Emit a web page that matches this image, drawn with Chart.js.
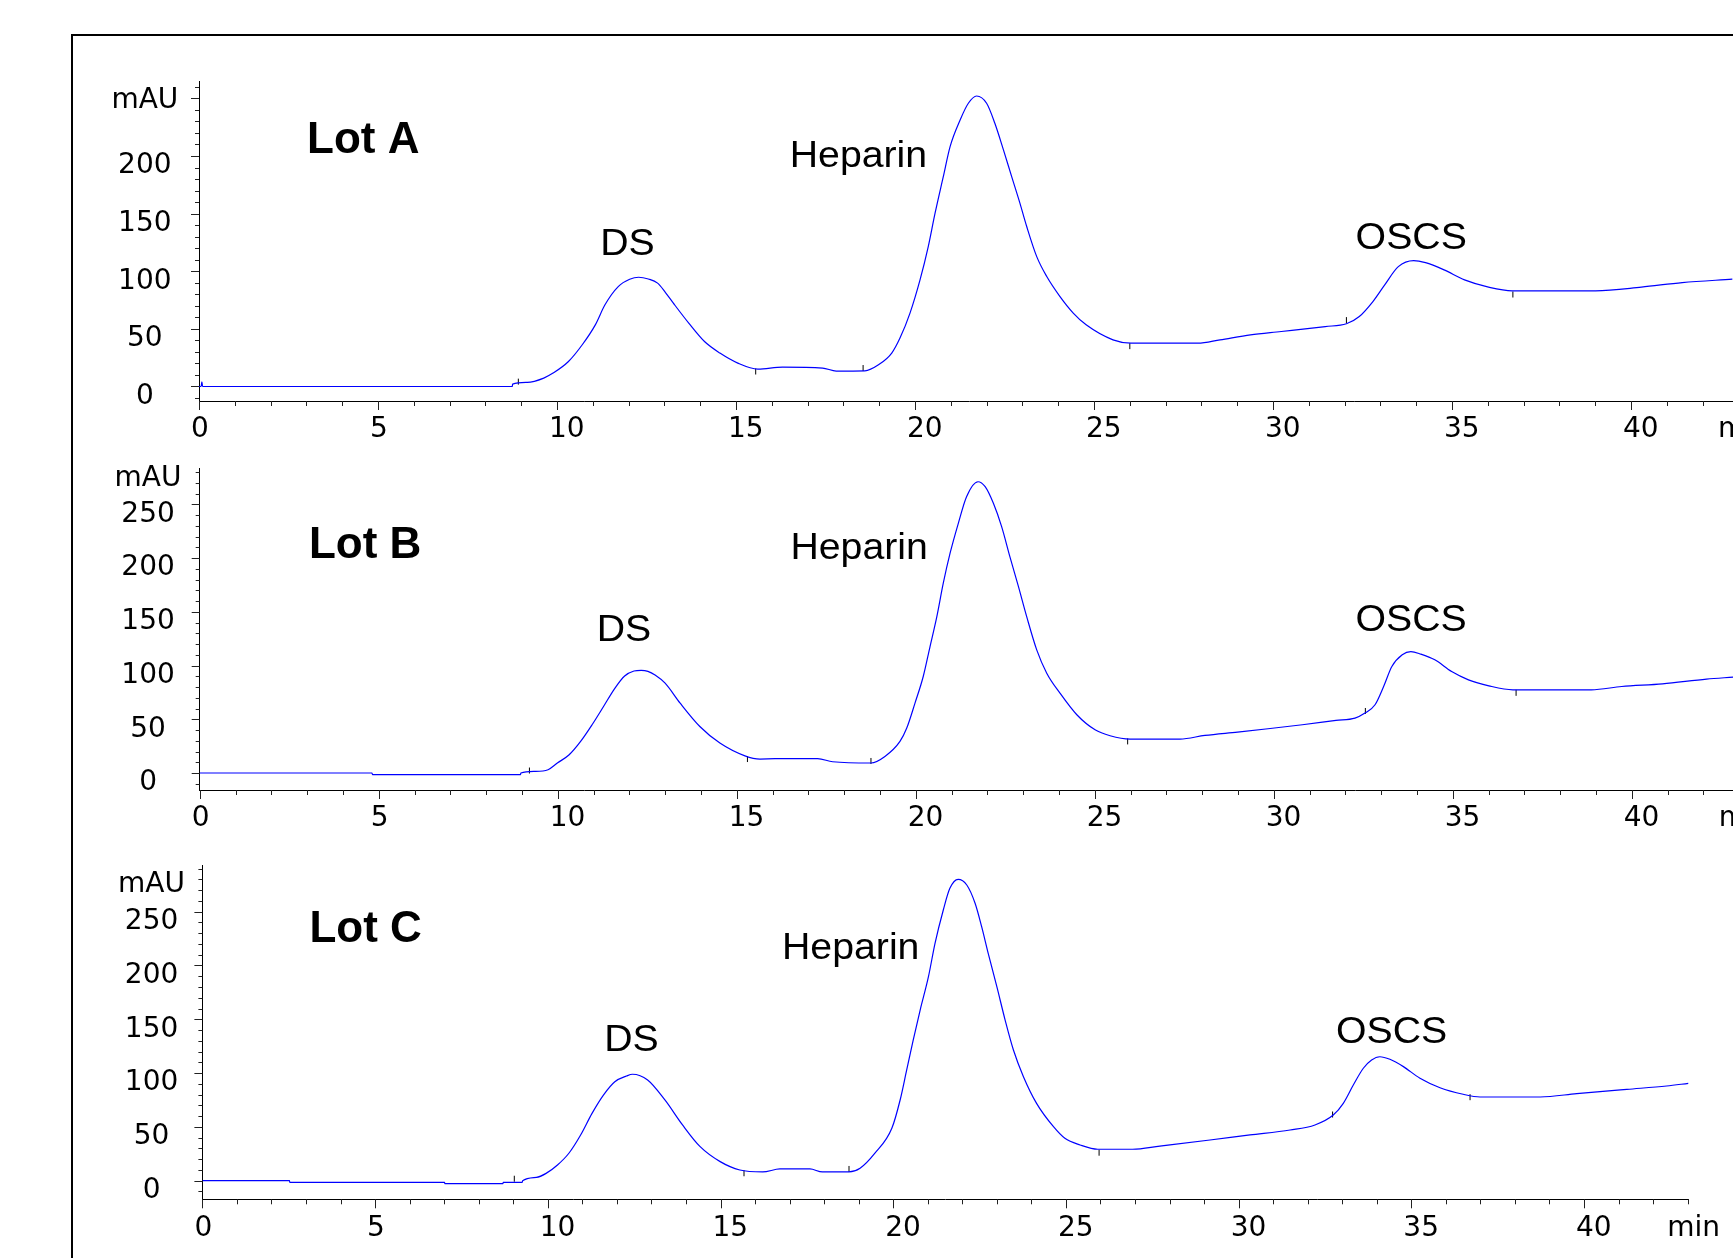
<!DOCTYPE html>
<html>
<head>
<meta charset="utf-8">
<title>Lot A / Lot B / Lot C chromatograms</title>
<script src="https://cdn.jsdelivr.net/npm/chart.js@4.4.1/dist/chart.umd.min.js"></script>
<style>
  html, body { margin: 0; padding: 0; background: #fff; }
  body { width: 1733px; height: 1258px; overflow: hidden; position: relative; }
  #frame { position: absolute; left: 71px; top: 34px; width: 1800px; height: 1400px;
           border-top: 2px solid #000; border-left: 2px solid #000; }
  canvas { position: absolute; left: 0; }
</style>
</head>
<body>
<div id="frame"></div>
<canvas id="lotA" width="1800" height="415" style="top:40px"></canvas>
<canvas id="lotB" width="1800" height="414" style="top:430px"></canvas>
<canvas id="lotC" width="1800" height="429" style="top:825px"></canvas>
<script>
// ===== DATA (retention time in min, signal in mAU) =====
const lotA_min = [0, 0.06, 0.08, 0.1, 8.75, 8.76, 9.17, 9.63, 9.89, 10.32, 10.7, 11.07, 11.34, 11.71, 12.03, 12.28,
  12.55, 12.81, 13.03, 13.25, 13.68, 14.12, 14.55, 15.05, 15.61, 16.3, 17.42, 17.8, 18.6, 18.98, 19.35, 19.58, 19.86,
  20.14, 20.37, 20.56, 20.79, 20.98, 21.26, 21.49, 21.72, 22.0, 22.23, 22.47, 22.7, 22.93, 23.12, 23.4, 23.68,
  24.05, 24.42, 24.78, 25.53, 26.03, 27.9, 28.52, 29.37, 30.23, 31.46, 32.05, 32.41, 32.79, 33.12, 33.5, 33.93,
  34.26, 34.78, 35.35, 36.02, 36.68, 39.01, 40.29, 41.43, 42.83];
const lotA_mAU = [0, 0, 4, 0, 0, 2, 3.5, 7.3, 11.6, 21.7, 36, 53.5, 70.9, 86.7, 93, 94.8,
  93.3, 89.7, 81.5, 72.3, 55, 39, 29, 20.3, 15.1, 16.8, 16, 13.4, 13.6, 18.8, 29, 42, 63.7,
  92.5, 121.4, 150.4, 182.1, 208.2, 231.3, 245.8, 252.1, 245.8, 228.4, 205.3, 182.1, 159.1, 138.8, 112.7, 95.4,
  78, 63.7, 53.5, 40.5, 37.6, 37.6, 40.5, 44.8, 47.7, 52, 54.4, 60.7, 73.7, 88.2, 104, 109.3,
  107.5, 101.2, 92.5, 86.2, 83, 83, 86.2, 90.2, 93.1];
const lotA_markMin = [8.92, 15.55, 18.55, 26.0, 32.05, 36.7];
const lotA_markMAU = [4.2, 13, 16, 35, 57.6, 79.8];

const lotB_min = [0, 4.81, 4.83, 8.96, 8.97, 9.36, 9.73, 9.99, 10.32, 10.64, 10.96, 11.28, 11.6, 11.87, 12.13, 12.33,
  12.52, 12.72, 13.0, 13.42, 13.97, 14.53, 15.23, 15.65, 16.07, 17.26, 17.68, 18.75, 19.14, 19.56, 19.75, 19.98,
  20.21, 20.4, 20.59, 20.77, 20.96, 21.19, 21.42, 21.74, 21.94, 22.17, 22.4, 22.63, 22.87, 23.1, 23.38, 23.66,
  24.03, 24.5, 25.01, 25.43, 25.99, 27.38, 28.08, 28.99, 29.84, 30.8, 31.74, 32.27, 32.55, 32.83, 33.07, 33.3,
  33.59, 33.83, 34.11, 34.5, 34.97, 35.44, 36.01, 36.68, 38.87, 39.72, 40.86, 42.09, 42.83];
const lotB_mAU = [0, 0, -1.5, -1.5, 0, 1.5, 3.1, 9.3, 17, 29.4, 44.9, 61.9, 79, 90.2, 94.9, 95.5,
  94.6, 91.2, 83.6, 65, 43.3, 27.9, 16, 13, 13.3, 13.3, 10.5, 9.3, 15.4, 29.4, 41.8, 65,
  89.8, 117.7, 145.5, 176.6, 204.5, 232.3, 257.1, 271, 266.4, 250.9, 229.2, 201.3, 173.4, 145.5, 114.6, 92.9,
  74.3, 54.2, 40.2, 34.7, 31.6, 31.6, 35, 38.1, 41.2, 44.9, 48.9, 51.1, 55.8, 63.5, 80.5, 99.1,
  110, 113, 110.6, 105.3, 94.4, 86.7, 81.1, 77.4, 77.4, 80.5, 83, 87.4, 89.2];
const lotB_markMin = [9.21, 15.3, 18.75, 25.92, 32.56, 36.77];
const lotB_markMAU = [2.3, 13, 11.2, 29.4, 57.7, 74.6];

const lotC_min = [0, 2.52, 2.53, 7.01, 7.02, 8.7, 8.71, 9.26, 9.27, 9.67, 9.95, 10.28, 10.61, 10.95, 11.28, 11.61,
  11.94, 12.28, 12.45, 12.89, 13.39, 13.9, 14.41, 14.99, 15.56, 16.22, 16.72, 17.59, 17.95, 18.72, 19.04, 19.47,
  19.96, 20.2, 20.39, 20.58, 20.78, 21.02, 21.21, 21.45, 21.64, 21.88, 22.13, 22.37, 22.56, 22.75, 23.0, 23.24,
  23.48, 23.77, 24.15, 24.64, 24.97, 25.41, 25.92, 26.93, 27.72, 29.17, 30.33, 31.49, 32.21, 32.74, 33.03, 33.32,
  33.61, 33.85, 34.09, 34.38, 34.77, 35.25, 35.83, 36.5, 36.99, 38.73, 39.79, 41.24, 42.39, 43.02];
const lotC_mAU = [0, 0, -1.5, -1.5, -2.8, -2.8, -1.5, -1.5, 0, 3.1, 6.8, 14.6, 25.5, 42.5, 62.6, 79.6,
  92, 97.3, 98.9, 93.6, 75, 51.8, 31.6, 17.7, 9.9, 8.1, 10.9, 10.9, 8.1, 8.1, 11.5, 25.5,
  48.7, 75, 102.9, 130.8, 158.6, 189.6, 220.6, 251.6, 271.7, 280.1, 274.8, 257.8, 236.1, 211.3, 180.3, 149.3,
  121.5, 96.7, 71.9, 50.2, 39.4, 33.2, 29.2, 29.2, 32.2, 37.8, 42.5, 47.1, 51.8, 61, 71.9, 88.9,
  104.5, 112.2, 115.2, 112.8, 106, 95.2, 86.4, 80.3, 77.8, 77.8, 80.9, 84.9, 88, 90.5];
const lotC_markMin = [9.03, 15.68, 18.72, 25.96, 32.72, 36.7];
const lotC_markMAU = [1.8, 6.9, 10.9, 26, 61.5, 77.6];

const timeTicks = [0, 5, 10, 15, 20, 25, 30, 35, 40];
const mauTicksA = [0, 50, 100, 150, 200];
const mauTicksBC = [0, 50, 100, 150, 200, 250];
const peakNames = ['DS', 'Heparin', 'OSCS'];

// ===== LAYOUT / STYLE per panel =====
const FONT = '"DejaVu Sans", Verdana, sans-serif';
const ARIAL = '"Liberation Sans", Arial, sans-serif';
const STRETCH = 1.09; // the original figure is slightly widened
Chart.defaults.font.family = FONT;
Chart.defaults.color = '#000';

const panels = [
  { id: 'lotA', title: 'Lot A', time: lotA_min, signal: lotA_mAU, markT: lotA_markMin, markV: lotA_markMAU,
    yTicks: mauTicksA, unitAt: 256.7, yMin: -12.6, yMax: 264.5, xMax: 43.03, tickPad: 20.7,
    pad: { left: 99, right: 60.5, top: 41.7, bottom: 4 },
    titleAt: [3.02, 203], peakAt: [[11.97, 114.2], [18.42, 190.3], [33.86, 119.2]] },
  { id: 'lotB', title: 'Lot B', time: lotB_min, signal: lotB_mAU, markT: lotB_markMin, markV: lotB_markMAU,
    yTicks: mauTicksBC, unitAt: 283.5, yMin: -15.8, yMax: 283.5, xMax: 43.03, tickPad: 18.2,
    pad: { left: 99.7, right: 59.8, top: 38.3, bottom: 4 },
    titleAt: [3.05, 199.8], peakAt: [[11.85, 123.2], [18.42, 198.9], [33.84, 132.2]] },
  { id: 'lotC', title: 'Lot C', time: lotC_min, signal: lotC_mAU, markT: lotC_markMin, markV: lotC_markMAU,
    yTicks: mauTicksBC, unitAt: 284, yMin: -17.3, yMax: 293.4, xMax: 43.03, tickPad: 17.4,
    pad: { left: 102.4, right: 111.3, top: 40, bottom: 4.7 },
    titleAt: [3.1, 222.1], peakAt: [[12.42, 120.8], [18.77, 206], [34.43, 127.7]] }
];

function stretchedText(ctx, text, x, y) {
  ctx.save();
  ctx.translate(x, y);
  ctx.scale(STRETCH, 1);
  ctx.fillText(text, 0, 0);
  ctx.restore();
}

// minor/major tick marks, "min" unit and the peak / lot names
const chromDecor = {
  id: 'chromDecor',
  afterDraw(chart, args, p) {
    const { ctx, chartArea: a, scales: { x, y } } = chart;
    ctx.save();
    ctx.strokeStyle = '#222';
    ctx.lineWidth = 1;
    ctx.beginPath();
    for (let v = Math.ceil(y.min / 10) * 10; v <= y.max; v += 10) {
      const py = Math.round(y.getPixelForValue(v)) + 0.5;
      const len = v % 50 === 0 ? 8 : 4;
      ctx.moveTo(a.left - len, py);
      ctx.lineTo(a.left, py);
    }
    for (let t = 0; t <= x.max; t += 1) {
      const px = Math.round(x.getPixelForValue(t)) + 0.5;
      const len = t % 5 === 0 ? 9 : 5;
      ctx.moveTo(px, a.bottom);
      ctx.lineTo(px, a.bottom + len);
    }
    ctx.stroke();

    ctx.fillStyle = '#000';
    ctx.font = '28px ' + FONT;
    ctx.textAlign = 'center';
    ctx.textBaseline = 'middle';
    ctx.fillText('min', a.right + 5, x.top + 12.2 + 28 * 1.2 / 2);

    ctx.textBaseline = 'alphabetic';
    ctx.textAlign = 'left';
    ctx.font = 'bold 44px ' + ARIAL;
    ctx.fillText(p.title, x.getPixelForValue(p.titleAt[0]), y.getPixelForValue(p.titleAt[1]));

    ctx.textAlign = 'center';
    ctx.font = '36px ' + ARIAL;
    peakNames.forEach((name, i) => {
      const [t, v] = p.peakAt[i];
      stretchedText(ctx, name, x.getPixelForValue(t), y.getPixelForValue(v));
    });
    ctx.restore();
  }
};

panels.forEach(p => {
  new Chart(document.getElementById(p.id), {
    type: 'line',
    data: {
      datasets: [{
        data: p.time.map((t, i) => ({ x: t, y: p.signal[i] })),
        borderColor: '#0000ff',
        borderWidth: 1.2,
        pointRadius: 0,
        cubicInterpolationMode: 'monotone'
      }, {
        type: 'scatter',
        data: p.markT.map((t, i) => ({ x: t, y: p.markV[i] })),
        pointStyle: 'line',
        rotation: 90,
        radius: 3,
        borderColor: '#000',
        borderWidth: 1
      }]
    },
    options: {
      responsive: false,
      animation: false,
      events: [],
      layout: { padding: p.pad },
      plugins: { legend: { display: false }, tooltip: { enabled: false }, chromDecor: p },
      scales: {
        x: {
          type: 'linear', min: 0, max: p.xMax,
          grid: { display: false, drawTicks: false },
          border: { display: true, color: '#000', width: 1 },
          afterBuildTicks: s => { s.ticks = timeTicks.map(v => ({ value: v })); },
          afterFit: s => { s.height = 50; },
          ticks: { font: { size: 28 }, padding: 12.2, align: 'start', labelOffset: -8, maxRotation: 0, autoSkip: false }
        },
        y: {
          type: 'linear', min: p.yMin, max: p.yMax,
          grid: { display: false, drawTicks: false },
          border: { display: true, color: '#000', width: 1 },
          afterBuildTicks: s => { s.ticks = p.yTicks.concat([p.unitAt]).map(v => ({ value: v })); },
          afterFit: s => { s.width = 100; },
          ticks: {
            font: { size: 28 }, padding: p.tickPad, crossAlign: 'center', labelOffset: 10, autoSkip: false,
            callback: v => (v === p.unitAt ? 'mAU' : v)
          }
        }
      }
    },
    plugins: [chromDecor]
  });
});
</script>
</body>
</html>
